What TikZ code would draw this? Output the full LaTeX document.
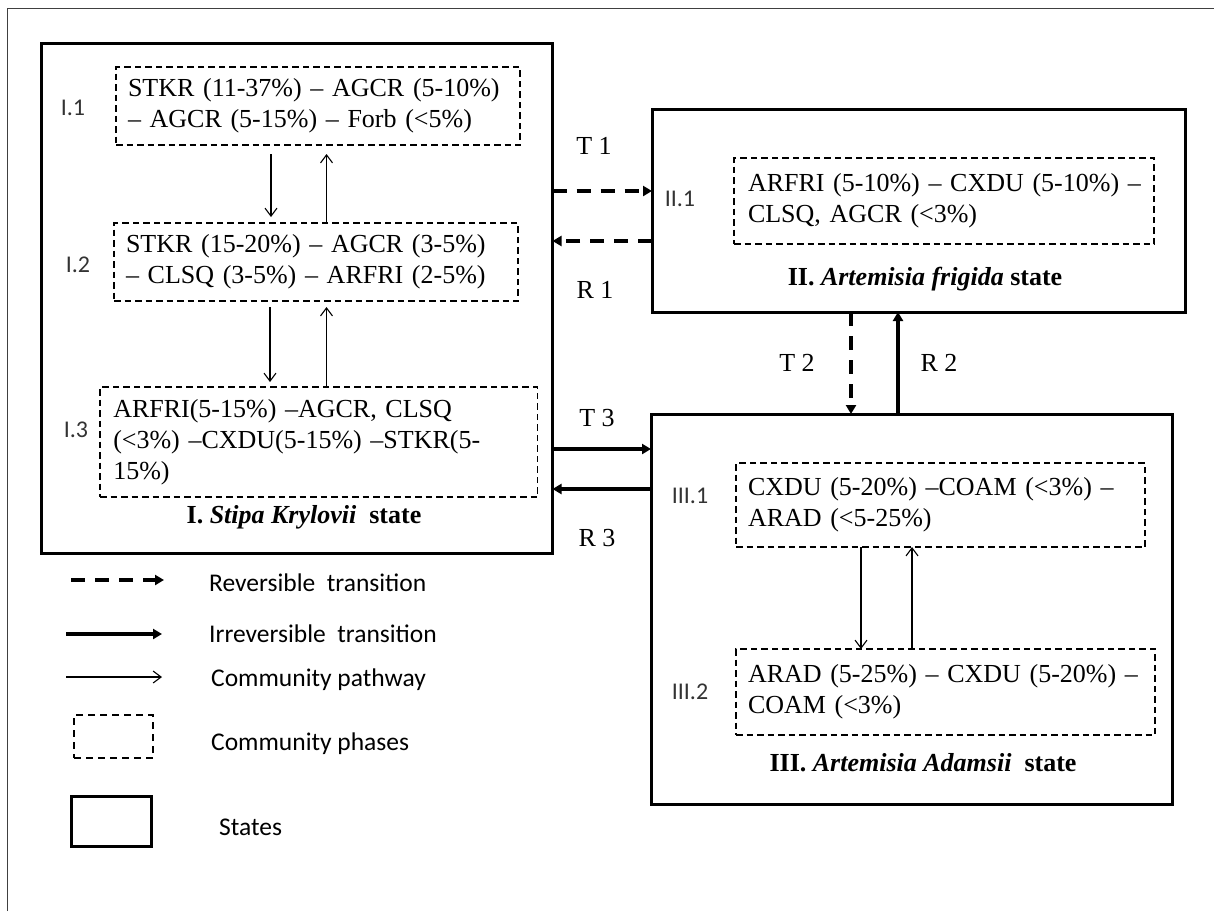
\documentclass[tikz,border=0pt]{standalone}
\usepackage{fontspec}
\setmainfont{Liberation Serif}
\newfontfamily\calib{Carlito}
\usetikzlibrary{arrows.meta}
\newcommand\mainfnt{\fontsize{26}{31}\selectfont}
\newcommand\legfnt{\calib\fontsize{25.5}{30}\selectfont}
\newcommand\labfnt{\calib\fontsize{24}{28}\selectfont\color{black!80}}
\begin{document}
\begin{tikzpicture}[x=1pt,y=-1pt,
  state/.style={draw, line width=3pt, inner sep=0pt, outer sep=0pt},
  phase/.style={draw, line width=1.6pt, dash pattern=on 6.5pt off 4pt, inner sep=0pt, outer sep=0pt, align=left, font=\mainfnt},
  rev/.style={line width=3.5pt, dash pattern=on 14pt off 10pt, -{Triangle[length=9pt,width=10pt]}},
  irr/.style={line width=3.5pt, -{Triangle[length=9pt,width=10pt]}},
  pathw/.style={line width=1.1pt, -{Straight Barb[length=8pt,width=12pt]}},
  lab/.style={inner sep=0pt, font=\labfnt},
  tlab/.style={inner sep=0pt, font=\mainfnt},
  slab/.style={inner sep=0pt, font=\mainfnt\bfseries},
  leg/.style={inner sep=0pt, anchor=west, font=\legfnt}
]
\useasboundingbox (0,0) rectangle (1214,911);
% outer frame
\draw[line width=1pt, black!75] (7,911) -- (7,8) -- (1214,8);

% states
\node[state, minimum width=511pt, minimum height=510pt] (sI) at (297,298) {};
\node[state, minimum width=533pt, minimum height=203pt] (sII) at (918.5,210.5) {};
\node[state, minimum width=521pt, minimum height=390pt] (sIII) at (911.5,609) {};

% phases
\node[phase, minimum width=404pt, minimum height=78pt, text width=380pt] (p11) at (318,106)
  {\mbox{STKR (11-37\%) – AGCR (5-10\%)}\\\mbox{– AGCR (5-15\%) – Forb (<5\%)}};
\node[phase, minimum width=404pt, minimum height=78pt, text width=380pt] (p12) at (316,262)
  {\mbox{STKR (15-20\%) – AGCR (3-5\%)}\\\mbox{– CLSQ (3-5\%) – ARFRI (2-5\%)}};
\node[phase, minimum width=437.5pt, minimum height=110pt, text width=411pt] (p13) at (318.75,442)
  {\mbox{ARFRI(5-15\%) –AGCR, CLSQ}\\\mbox{(<3\%) –CXDU(5-15\%) –STKR(5-}\\\mbox{15\%)}};
\node[phase, minimum width=420pt, minimum height=86pt, text width=392pt] (p21) at (944,201)
  {\mbox{ARFRI (5-10\%) – CXDU (5-10\%) –}\\\mbox{CLSQ, AGCR (<3\%)}};
\node[phase, minimum width=409pt, minimum height=84pt, text width=385pt] (p31) at (940.5,505)
  {\mbox{CXDU (5-20\%) –COAM (<3\%) –}\\\mbox{ARAD (<5-25\%)}};
\node[phase, minimum width=419pt, minimum height=86pt, text width=395pt] (p32) at (945.5,692)
  {\mbox{ARAD (5-25\%) – CXDU (5-20\%) –}\\\mbox{COAM (<3\%)}};

% phase labels
\node[lab] (l11) at (73,108) {I.1};
\node[lab] (l12) at (78,265) {I.2};
\node[lab] (l13) at (76,430) {I.3};
\node[lab] (l21) at (680,199) {II.1};
\node[lab] (l31) at (690,496) {III.1};
\node[lab] (l32) at (690,692) {III.2};

% state labels
\node[slab] (tsI) at (304,517) {I. \textit{Stipa Krylovii}\hspace{0.25em} state};
\node[slab] (tsII) at (925,279) {II. \textit{Artemisia frigida} state};
\node[slab] (tsIII) at (923,763) {III. \textit{Artemisia Adamsii}\hspace{0.25em} state};

% community pathways
\coordinate (xa) at (271,0);
\coordinate (xb) at (326.5,0);
\coordinate (xc) at (270,0);
\coordinate (xd) at (861,0);
\coordinate (xe) at (912,0);
\draw[pathw, shorten <=9pt, shorten >=6pt] (p11.south -| xa) -- (p12.north -| xa);
\draw[pathw, shorten >=9pt] (p12.north -| xb) -- (p11.south -| xb);
\draw[pathw, shorten <=6pt, shorten >=5pt] (p12.south -| xc) -- (p13.north -| xc);
\draw[pathw, shorten >=6pt] (p13.north -| xb) -- (p12.south -| xb);
\draw[pathw] (p31.south -| xd) -- (p32.north -| xd);
\draw[pathw] (p32.north -| xe) -- (p31.south -| xe);

% transitions
\coordinate (yt1) at (0,191);
\coordinate (yr1) at (0,241);
\coordinate (yt3) at (0,449);
\coordinate (yr3) at (0,489);
\coordinate (xt2) at (851,0);
\coordinate (xr2) at (898,0);
\draw[rev] (sI.east |- yt1) -- (sII.west |- yt1);
\draw[rev] (sII.west |- yr1) -- (sI.east |- yr1);
\draw[rev] (sII.south -| xt2) -- (sIII.north -| xt2);
\draw[irr] (sIII.north -| xr2) -- (sII.south -| xr2);
\draw[irr] (sI.east |- yt3) -- (sIII.west |- yt3);
\draw[irr] (sIII.west |- yr3) -- (sI.east |- yr3);

% transition labels
\node[tlab] (t1) at (594,146) {T 1};
\node[tlab] (r1) at (595,290) {R 1};
\node[tlab] (t2) at (797,363) {T 2};
\node[tlab] (r2) at (939,363) {R 2};
\node[tlab] (t3) at (597,418) {T 3};
\node[tlab] (r3) at (597,538) {R 3};

% legend
\coordinate (lga1) at (71,580);  \coordinate (lga2) at (164,580);
\coordinate (lgb1) at (66,634);  \coordinate (lgb2) at (162,634);
\coordinate (lgc1) at (66,677);  \coordinate (lgc2) at (162,677);
\draw[rev] (lga1) -- (lga2);
\draw[irr] (lgb1) -- (lgb2);
\draw[pathw] (lgc1) -- (lgc2);
\node[phase, line width=1.8pt, dash pattern=on 7pt off 5pt, minimum width=79pt, minimum height=43pt] (lgp) at (113.5,736.5) {};
\node[state, minimum width=80pt, minimum height=50pt] (lgs) at (111,821) {};
\node[leg] (lt1) at (209,583) {Reversible\ \ transition};
\node[leg] (lt2) at (209,634) {Irreversible\ \ transition};
\node[leg] (lt3) at (211,680) {Community pathway};
\node[leg] (lt4) at (211,744) {Community phases};
\node[leg] (lt5) at (219,827) {States};
\end{tikzpicture}
\end{document}
